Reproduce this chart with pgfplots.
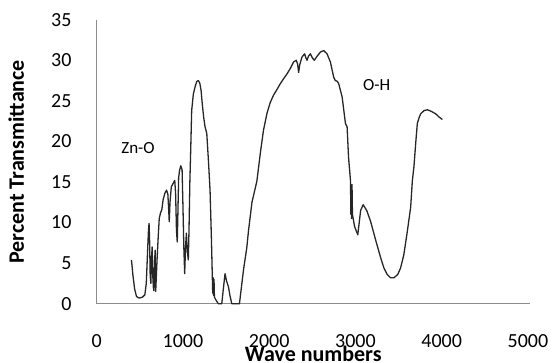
\documentclass[border=0pt]{standalone}
\usepackage{fontspec}
\setmainfont{Carlito}
\usepackage{pgfplots}
\pgfplotsset{compat=1.18}
\definecolor{axgray}{HTML}{8C8C8C}
\begin{document}
\begin{tikzpicture}
\begin{axis}[
 scale only axis, width=433pt, height=284pt,
 xmin=0, xmax=5020, ymin=0, ymax=35,
 axis x line*=bottom, axis y line*=left,
 axis line style={draw=axgray, line width=0.9pt, -},
 xtick={0,1000,...,5000}, ytick={0,5,...,35},
 major tick length=0pt,
 scaled x ticks=false,
 /pgf/number format/1000 sep={},
 /pgf/number format/assume math mode=true,
 tick label style={font=\fontsize{20}{24}\selectfont, text=black},
 xticklabel style={inner sep=0pt, anchor=north, yshift=-31pt},
 yticklabel style={inner sep=0pt, anchor=east, xshift=-25pt},
 xlabel={Wave numbers}, ylabel={Percent Transmittance},
 label style={font=\fontsize{22}{26}\selectfont\bfseries},
 xlabel style={at={(axis description cs:0.5,-0.205)}, anchor=base, inner sep=0pt},
 ylabel style={at={(axis description cs:-0.168,0.5)}, anchor=base, inner sep=0pt},
 clip=false,
]
\addplot[black!85, line width=1.3pt, line join=round] table {
403 5.4
420 3.5
440 1.8
461 0.9
490 0.7
530 0.8
558 1.1
575 2.5
590 6.5
600 9.0
607 9.9
613 8.0
620 3.5
628 2.5
635 5.5
643 7.0
650 3.5
657 2.0
663 1.6
670 5.0
678 6.6
684 1.5
690 3.0
700 5.5
713 8.2
725 10.5
740 11.2
755 11.6
770 12.8
790 13.6
810 14.0
825 13.5
835 11.5
841 10.1
850 12.5
865 14.4
885 14.8
905 15.2
915 13.5
925 9.0
934 7.6
942 11.5
950 15.5
960 16.4
975 17.0
990 16.5
1000 12.0
1010 7.0
1020 3.7
1030 7.0
1040 8.7
1050 6.5
1062 5.4
1070 9.0
1080 15.0
1090 19.0
1101 23.8
1120 25.8
1140 26.7
1160 27.4
1178 27.5
1195 27.2
1210 26.3
1225 24.5
1240 23.0
1256 21.8
1276 21.0
1295 17.7
1314 14.0
1330 8.0
1345 1.3
1350 3.2
1355 1.0
1360 3.0
1365 0.8
1380 0.5
1410 0.0
1450 0.0
1470 2.0
1488 3.7
1505 2.8
1527 2.1
1545 1.0
1566 0.0
1655 0.0
1701 4.1
1740 6.9
1760 9.0
1800 12.5
1857 15.1
1900 18.8
1934 21.4
1975 23.5
2012 24.8
2050 25.7
2090 26.4
2128 27.1
2165 27.7
2205 28.3
2245 29.0
2283 29.8
2314 30.0
2330 29.5
2341 28.5
2355 29.5
2380 30.4
2411 30.8
2425 30.3
2438 30.0
2455 30.5
2477 30.8
2500 30.3
2523 30.0
2555 30.5
2593 31.0
2631 31.2
2670 30.8
2709 29.8
2748 27.9
2767 27.5
2790 27.4
2806 27.1
2845 25.5
2884 22.2
2903 21.8
2920 18.0
2942 15.2
2947 11.0
2950 14.5
2955 10.5
2960 14.7
2965 11.0
2990 9.5
3027 8.5
3060 11.5
3089 12.2
3130 11.5
3174 10.2
3230 8.0
3291 5.7
3330 4.4
3368 3.6
3405 3.2
3446 3.2
3490 3.6
3523 4.4
3560 6.0
3601 8.9
3640 11.9
3659 15.1
3678 16.9
3700 20.0
3717 22.2
3740 23.0
3756 23.4
3795 23.8
3834 23.9
3880 23.7
3930 23.4
3970 23.0
4008 22.7
};
\node[font=\fontsize{17}{20}\selectfont, text=black] at (axis cs:479,19.2) {Zn-O};
\node[font=\fontsize{17}{20}\selectfont, text=black] at (axis cs:3246,26.95) {O-H};
\end{axis}
\pgfresetboundingbox
\path[use as bounding box] (-96.7pt,-58.3pt) rectangle (456.3pt,303.7pt);
\end{tikzpicture}
\end{document}
